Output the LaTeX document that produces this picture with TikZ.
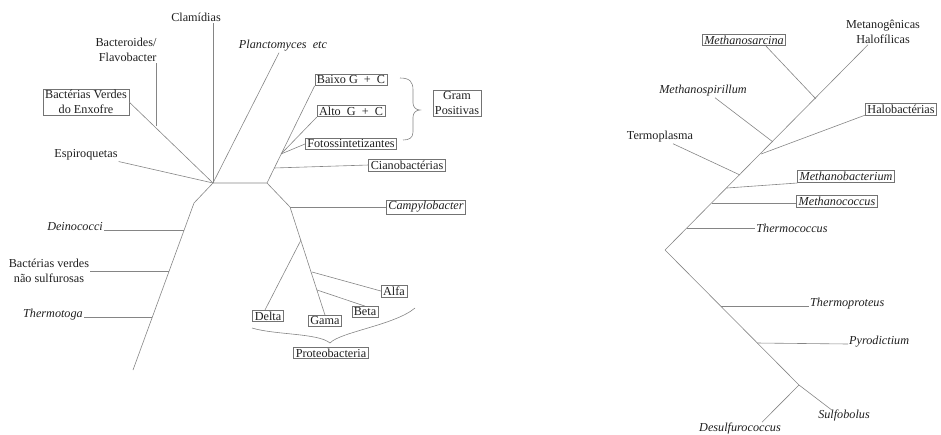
\documentclass[tikz,border=0pt]{standalone}
\usepackage{fontspec}
\setmainfont{Liberation Serif}
\usetikzlibrary{calc}
\begin{document}
\begin{tikzpicture}[x=1pt,y=-1pt,
  branch/.style={draw=black!48, line width=0.6pt},
  lbl/.style={font=\fontsize{12.2}{14.5}\selectfont, text=black!88, inner sep=1pt},
  taxon/.style={lbl, draw=black!55, line width=0.6pt, inner xsep=2pt, inner ysep=1.5pt},
  bracket/.style={draw=black!48, line width=0.6pt}]
\useasboundingbox (0,0) rectangle (941,434);

% ---------------- Bacteria ----------------
% labels
\node[lbl] (clam) at (196,17) {Clamídias};
\node[lbl, align=right] (bact) at (126,50) {Bacteroides/\\Flavobacter};
\node[taxon, align=center] (bve) at (86,102) {Bactérias Verdes\\do Enxofre};
\node[lbl] (espi) at (86,155) {Espiroquetas};
\node[lbl] (planc) at (283,46) {\textit{Planctomyces\enspace etc}};
\node[taxon] (baixo) at (351,80) {Baixo G\enspace+\enspace C};
\node[taxon] (alto) at (351,111) {Alto\enspace G\enspace+\enspace C};
\node[taxon] (foto) at (351,144) {Fotossintetizantes};
\node[taxon] (ciano) at (407,165) {Cianobactérias};
\node[taxon, align=center] (gram) at (457,103) {Gram\\Positivas};
\node[taxon] (campy) at (426,207) {\textit{Campylobacter}};
\node[taxon] (delta) at (268,316) {Delta};
\node[taxon] (gama) at (325,321) {Gama};
\node[taxon] (beta) at (365,312) {Beta};
\node[taxon] (alfa) at (394,291) {Alfa};
\node[taxon] (proteo) at (331,353) {Proteobacteria};
\node[lbl, anchor=base east] (deino) at (104,230) {\textit{Deinococci}};
\node[lbl, align=center] (bvns) at (49,271) {Bactérias verdes\\não sulfurosas};
\node[lbl, anchor=base east] (thermo) at (84,317) {\textit{Thermotoga}};

% branch points
\coordinate (c1) at (213,183);
\coordinate (b1) at (156,126);
\coordinate (n2) at (267,183);
\coordinate (g1) at (274,168);
\coordinate (g2) at (281,154);
\coordinate (n3) at (290,207);
\coordinate (p1) at (301,240);
\coordinate (p2) at (312,272);
\coordinate (p3) at (317,290);
\coordinate (l1) at (194,203);
\coordinate (l2) at (133,370);
\coordinate (d1) at (184,230);
\coordinate (d2) at (169,271);
\coordinate (d3) at (152,317);

% branches
\draw[branch] (c1) -- (c1 |- clam.south);
\draw[branch] (c1) -- (bve.east);
\draw[branch] (b1) -- (b1 |- bact.south);
\draw[branch] (c1) -- (espi.south east);
\draw[branch] (c1) -- ($(planc.south)+(-4,0)$);
\draw[branch] (c1) -- (n2) -- (baixo.south west);
\draw[branch] (g1) -- (ciano.west);
\draw[branch] (g2) -- (alto.south west);
\draw[branch] (g2) -- (foto.west);
\draw[branch] (n2) -- (n3) -- (gama.north);
\draw[branch] (n3) -- (campy.west);
\draw[branch] (p1) -- ($(delta.north)+(-3,0)$);
\draw[branch] (p2) -- (alfa.west);
\draw[branch] (p3) -- (beta.north);
\draw[branch] (c1) -- (l1) -- (l2);
\draw[branch] (d1) -- (deino.base east);
\draw[branch] (d2) -- (bvns.east);
\draw[branch] (d3) -- (thermo.base east);

% brackets
\coordinate (gb1) at (400,78);
\coordinate (gbt) at (420,110);
\coordinate (gb2) at (403,140);
\draw[bracket] (gb1) .. controls (410,78) and (413,82) .. (413,90) -- (413,103)
  .. controls (413,107) and (416,110) .. (gbt)
  .. controls (416,110) and (413,113) .. (413,117) -- (413,132)
  .. controls (413,138) and (409,140) .. (gb2);
\coordinate (pb1) at (252,328);
\coordinate (pbt) at (330,343);
\coordinate (pb2) at (415,308);
\draw[bracket] (pb1) .. controls (275,335) and (318,333) .. (pbt)
  .. controls (340,332) and (395,325) .. (pb2);

% ---------------- Archaea ----------------
\node[lbl, align=center] (metano) at (883,32) {Metanogênicas\\Halofílicas};
\node[taxon] (msarc) at (744,40) {\textit{Methanosarcina}};
\node[lbl] (mspir) at (703,91) {\textit{Methanospirillum}};
\node[taxon] (halo) at (901,109) {Halobactérias};
\node[lbl] (termop) at (660,137) {Termoplasma};
\node[taxon] (mbact) at (846,176) {\textit{Methanobacterium}};
\node[taxon] (mcocc) at (837,201) {\textit{Methanococcus}};
\node[lbl] (tcocc) at (792,228) {\textit{Thermococcus}};
\node[lbl, anchor=base west] (tprot) at (809,306) {\textit{Thermoproteus}};
\node[lbl, anchor=base west] (pyro) at (848,344) {\textit{Pyrodictium}};
\node[lbl] (sulfo) at (844,415) {\textit{Sulfobolus}};
\node[lbl] (desulf) at (740,428) {\textit{Desulfurococcus}};

\coordinate (r) at (665,250);
\coordinate (a1) at (816,99);
\coordinate (a2) at (773,142);
\coordinate (a3) at (761,154);
\coordinate (a4) at (740,175);
\coordinate (a5) at (727,188);
\coordinate (a6) at (712,203);
\coordinate (a7) at (687,228);
\coordinate (e1) at (721,306);
\coordinate (e2) at (757,343);
\coordinate (f) at (799,385);

\draw[branch] (r) -- ($(metano.south)+(-15,0)$);
\draw[branch] (a1) -- ($(msarc.south)+(22,0)$);
\draw[branch] (a2) -- ($(mspir.south)+(12,0)$);
\draw[branch] (a3) -- (halo.south west);
\draw[branch] (a4) -- ($(termop.south)+(13,0)$);
\draw[branch] (a5) -- ($(mbact.west)+(0,7)$);
\draw[branch] (a6) -- ($(mcocc.west)+(0,2)$);
\draw[branch] (a7) -- (tcocc.west);
\draw[branch] (r) -- (f);
\draw[branch] (e1) -- (tprot.base west);
\draw[branch] (e2) -- (pyro.base west);
\draw[branch] (f) -- ($(sulfo.north)+(-12,2)$);
\draw[branch] (f) -- ($(desulf.north)+(22,1)$);
\end{tikzpicture}
\end{document}
